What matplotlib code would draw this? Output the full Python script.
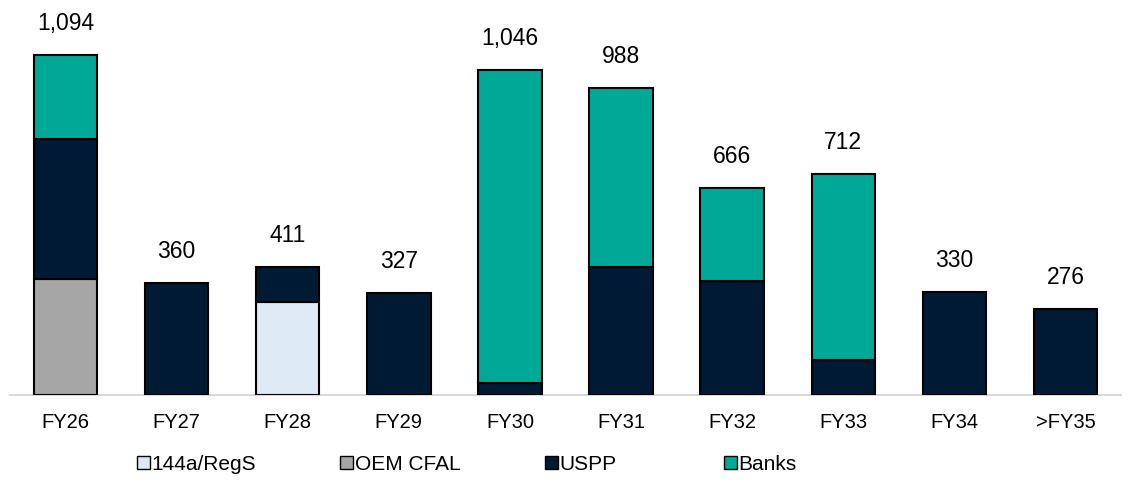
import numpy as np
import matplotlib.pyplot as plt

plt.rcParams['font.family'] = ['Liberation Sans', 'DejaVu Sans']

years = ['FY26', 'FY27', 'FY28', 'FY29', 'FY30', 'FY31', 'FY32', 'FY33', 'FY34', '>FY35']
regs = [0, 0, 299, 0, 0, 0, 0, 0, 0, 0]
oem = [373, 0, 0, 0, 0, 0, 0, 0, 0, 0]
uspp = [450, 360, 112, 327, 39, 412, 367, 113, 330, 276]
banks = [271, 0, 0, 0, 1007, 576, 299, 599, 0, 0]
totals = ['1,094', '360', '411', '327', '1,046', '988', '666', '712', '330', '276']

series = [('144a/RegS', regs, '#dde9f5'),
          ('OEM CFAL', oem, '#a6a6a6'),
          ('USPP', uspp, '#001a33'),
          ('Banks', banks, '#00a997')]
legend_x = [137, 340, 545, 724]  # left edge of each legend entry, px

fig = plt.figure(figsize=(11.29, 4.85), dpi=100)
ax = fig.add_axes([10 / 1129, 89 / 485, 1111 / 1129, 396 / 485])

x = np.arange(len(years))
bottom = np.zeros(len(years))
for name, vals, col in series:
    vals = np.array(vals, dtype=float)
    mask = vals > 0
    ax.bar(x[mask], vals[mask], 0.57, bottom=bottom[mask], color=col,
           edgecolor='black', linewidth=1.5, zorder=3)
    bottom += vals

for xi, top, lab in zip(x, bottom, totals):
    ax.text(xi, top + 68, lab, ha='center', va='bottom', fontsize=16.5)

ax.set_xlim(-0.5, len(years) - 0.5)
ax.set_ylim(0, 1274)
ax.set_xticks(x)
ax.set_xticklabels(years, fontsize=14.5)
ax.tick_params(axis='x', length=0, pad=12)
ax.set_yticks([])
for s in ['top', 'right', 'left']:
    ax.spines[s].set_visible(False)
ax.spines['bottom'].set_color('#d9d9d9')
ax.spines['bottom'].set_linewidth(1.5)

# one legend per entry so the spacing follows the reference
for (name, vals, col), lx in zip(series, legend_x):
    h = plt.Rectangle((0, 0), 1, 1, facecolor=col, edgecolor='black', linewidth=1)
    fig.legend([h], [name], loc='center left', bbox_to_anchor=(lx / 1129, 1 - 465 / 485),
               frameon=False, fontsize=15, handlelength=0.6, handleheight=0.6,
               handletextpad=0.1, borderpad=0, borderaxespad=0)

fig.savefig('out.png', dpi=100)
